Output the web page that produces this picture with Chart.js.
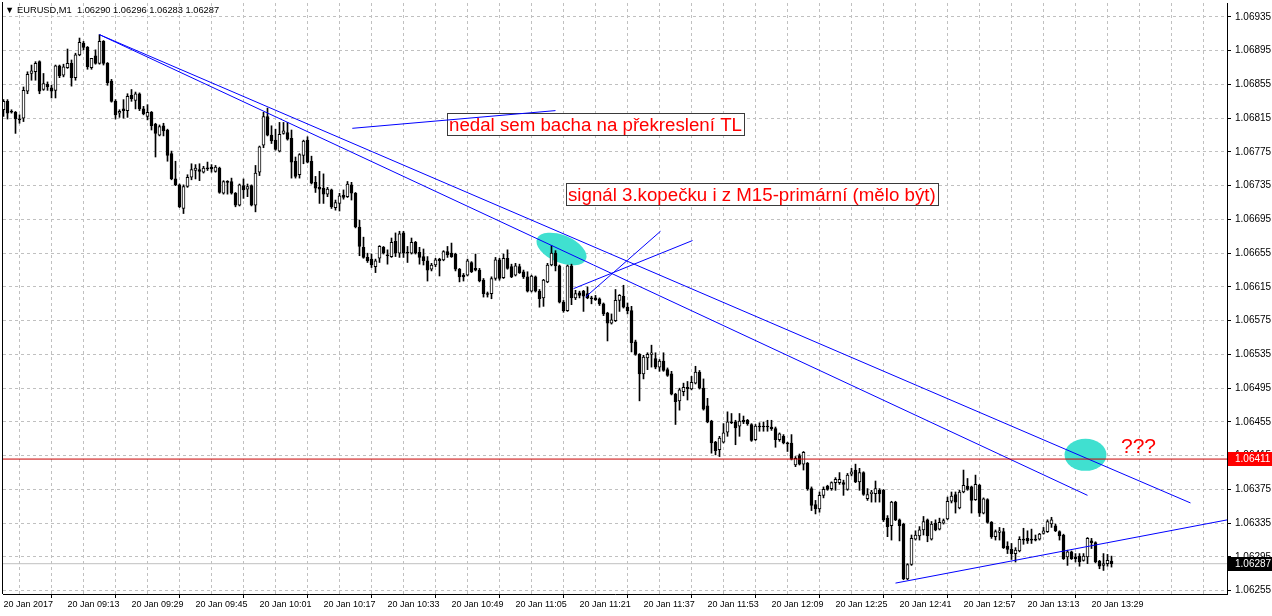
<!DOCTYPE html>
<html>
<head>
<meta charset="utf-8">
<script src="https://cdn.jsdelivr.net/npm/chart.js@4.4.1/dist/chart.umd.min.js"></script>
<style>
html,body{margin:0;padding:0;background:#ffffff;}
canvas{display:block;}
</style>
</head>
<body>
<canvas id="c" width="1272" height="616"></canvas>
<script>
// ---------------- DATA ----------------
const symbolTitle = 'EURUSD,M1';

const open = [
1.06825,1.06835,1.06823,1.06822,1.06814,1.06815,1.06847,1.06868,1.06870,1.06882,
1.06849,1.06855,1.06851,1.06848,1.06877,1.06866,1.06875,1.06880,1.06863,1.06890,
1.06904,1.06899,1.06875,1.06889,1.06880,1.06906,1.06880,1.06859,1.06835,1.06821,
1.06826,1.06824,1.06842,1.06836,1.06844,1.06826,1.06817,1.06822,1.06808,1.06795,
1.06806,1.06801,1.06773,1.06743,1.06736,1.06708,1.06734,1.06745,1.06753,1.06754,
1.06751,1.06756,1.06757,1.06752,1.06756,1.06726,1.06740,1.06740,1.06726,1.06712,
1.06735,1.06731,1.06735,1.06712,1.06751,1.06783,1.06817,1.06795,1.06789,1.06776,
1.06797,1.06798,1.06791,1.06764,1.06748,1.06771,1.06789,1.06764,1.06739,1.06733,
1.06732,1.06725,1.06730,1.06709,1.06714,1.06724,1.06722,1.06736,1.06726,1.06686,
1.06662,1.06650,1.06648,1.06639,1.06649,1.06662,1.06653,1.06651,1.06669,1.06655,
1.06679,1.06656,1.06655,1.06668,1.06656,1.06651,1.06646,1.06636,1.06641,1.06648,
1.06647,1.06657,1.06655,1.06654,1.06636,1.06629,1.06629,1.06644,1.06637,1.06635,
1.06623,1.06607,1.06607,1.06625,1.06647,1.06626,1.06649,1.06639,1.06629,1.06639,
1.06633,1.06627,1.06610,1.06627,1.06610,1.06602,1.06621,1.06641,1.06655,1.06640,
1.06597,1.06587,1.06640,1.06602,1.06608,1.06610,1.06607,1.06602,1.06602,1.06601,
1.06595,1.06584,1.06572,1.06575,1.06599,1.06604,1.06591,1.06587,1.06550,1.06535,
1.06512,1.06531,1.06535,1.06530,1.06520,1.06527,1.06517,1.06512,1.06488,1.06480,
1.06491,1.06496,1.06494,1.06501,1.06514,1.06495,1.06474,1.06456,1.06431,1.06422,
1.06431,1.06443,1.06455,1.06455,1.06450,1.06457,1.06457,1.06452,1.06434,1.06450,
1.06450,1.06450,1.06449,1.06447,1.06434,1.06438,1.06430,1.06430,1.06404,1.06415,
1.06405,1.06406,1.06376,1.06357,1.06352,1.06368,1.06379,1.06376,1.06383,1.06383,
1.06383,1.06375,1.06393,1.06398,1.06384,1.06395,1.06364,1.06370,1.06370,1.06374,
1.06374,1.06341,1.06332,1.06360,1.06339,1.06334,1.06269,1.06286,1.06316,1.06320,
1.06327,1.06339,1.06316,1.06335,1.06328,1.06335,1.06340,1.06361,1.06369,1.06353,
1.06372,1.06379,1.06378,1.06363,1.06380,1.06347,1.06363,1.06336,1.06319,1.06324,
1.06325,1.06308,1.06304,1.06299,1.06302,1.06316,1.06317,1.06316,1.06316,1.06316,
1.06323,1.06325,1.06334,1.06332,1.06325,1.06321,1.06295,1.06301,1.06295,1.06296,
1.06291,1.06295,1.06314,1.06312,1.06290,1.06285,1.06287,1.06290];

const high = [
1.06837,1.06837,1.06825,1.06823,1.06819,1.06852,1.06870,1.06878,1.06882,1.06883,
1.06868,1.06858,1.06854,1.06878,1.06878,1.06879,1.06897,1.06884,1.06892,1.06910,
1.06906,1.06900,1.06886,1.06896,1.06914,1.06907,1.06881,1.06861,1.06837,1.06825,
1.06837,1.06844,1.06849,1.06846,1.06845,1.06829,1.06831,1.06823,1.06809,1.06807,
1.06809,1.06802,1.06776,1.06764,1.06737,1.06736,1.06748,1.06761,1.06760,1.06761,
1.06758,1.06763,1.06760,1.06759,1.06757,1.06741,1.06741,1.06744,1.06727,1.06737,
1.06743,1.06737,1.06736,1.06759,1.06782,1.06822,1.06827,1.06806,1.06802,1.06810,
1.06810,1.06810,1.06801,1.06769,1.06773,1.06789,1.06793,1.06770,1.06746,1.06752,
1.06749,1.06733,1.06731,1.06718,1.06726,1.06730,1.06740,1.06739,1.06727,1.06694,
1.06674,1.06655,1.06654,1.06648,1.06664,1.06663,1.06659,1.06673,1.06679,1.06681,
1.06681,1.06663,1.06673,1.06669,1.06662,1.06660,1.06651,1.06643,1.06649,1.06649,
1.06658,1.06663,1.06667,1.06655,1.06637,1.06631,1.06648,1.06645,1.06654,1.06637,
1.06625,1.06609,1.06627,1.06650,1.06649,1.06654,1.06659,1.06642,1.06643,1.06642,
1.06635,1.06633,1.06629,1.06628,1.06612,1.06624,1.06643,1.06664,1.06658,1.06641,
1.06599,1.06641,1.06642,1.06611,1.06610,1.06611,1.06615,1.06604,1.06605,1.06602,
1.06596,1.06585,1.06583,1.06612,1.06606,1.06617,1.06596,1.06592,1.06552,1.06536,
1.06534,1.06537,1.06546,1.06537,1.06529,1.06537,1.06519,1.06515,1.06489,1.06495,
1.06501,1.06503,1.06509,1.06521,1.06516,1.06506,1.06483,1.06457,1.06432,1.06438,
1.06453,1.06467,1.06465,1.06457,1.06465,1.06462,1.06458,1.06453,1.06452,1.06454,
1.06455,1.06457,1.06457,1.06449,1.06442,1.06440,1.06431,1.06440,1.06414,1.06417,
1.06420,1.06407,1.06378,1.06362,1.06372,1.06378,1.06380,1.06384,1.06389,1.06395,
1.06386,1.06394,1.06400,1.06405,1.06400,1.06396,1.06376,1.06374,1.06385,1.06376,
1.06375,1.06344,1.06361,1.06361,1.06340,1.06335,1.06287,1.06321,1.06326,1.06331,
1.06343,1.06340,1.06337,1.06339,1.06341,1.06340,1.06366,1.06372,1.06372,1.06374,
1.06398,1.06388,1.06379,1.06392,1.06381,1.06365,1.06364,1.06337,1.06327,1.06330,
1.06329,1.06313,1.06311,1.06306,1.06319,1.06329,1.06326,1.06328,1.06321,1.06323,
1.06330,1.06339,1.06342,1.06334,1.06326,1.06322,1.06303,1.06302,1.06299,1.06299,
1.06299,1.06318,1.06317,1.06313,1.06291,1.06299,1.06298,1.06296];

const low = [
1.06817,1.06814,1.06821,1.06797,1.06809,1.06811,1.06844,1.06860,1.06860,1.06844,
1.06848,1.06848,1.06839,1.06839,1.06863,1.06864,1.06874,1.06853,1.06860,1.06889,
1.06896,1.06873,1.06873,1.06879,1.06879,1.06878,1.06854,1.06834,1.06814,1.06816,
1.06815,1.06816,1.06835,1.06826,1.06824,1.06819,1.06813,1.06801,1.06769,1.06794,
1.06794,1.06764,1.06742,1.06735,1.06709,1.06702,1.06733,1.06742,1.06743,1.06741,
1.06750,1.06753,1.06751,1.06751,1.06726,1.06725,1.06725,1.06725,1.06710,1.06711,
1.06720,1.06722,1.06711,1.06704,1.06747,1.06780,1.06794,1.06785,1.06777,1.06775,
1.06796,1.06789,1.06744,1.06744,1.06744,1.06761,1.06762,1.06737,1.06727,1.06714,
1.06714,1.06722,1.06708,1.06706,1.06705,1.06719,1.06721,1.06718,1.06685,1.06652,
1.06649,1.06644,1.06638,1.06632,1.06644,1.06654,1.06642,1.06650,1.06651,1.06650,
1.06650,1.06644,1.06654,1.06654,1.06642,1.06641,1.06622,1.06634,1.06639,1.06628,
1.06646,1.06650,1.06650,1.06634,1.06621,1.06622,1.06628,1.06632,1.06634,1.06621,
1.06603,1.06603,1.06601,1.06623,1.06623,1.06625,1.06636,1.06626,1.06628,1.06631,
1.06625,1.06609,1.06609,1.06609,1.06591,1.06592,1.06620,1.06640,1.06634,1.06596,
1.06585,1.06586,1.06594,1.06600,1.06602,1.06586,1.06601,1.06595,1.06599,1.06593,
1.06581,1.06551,1.06571,1.06574,1.06586,1.06590,1.06583,1.06538,1.06534,1.06480,
1.06506,1.06517,1.06520,1.06518,1.06515,1.06515,1.06509,1.06487,1.06452,1.06469,
1.06486,1.06481,1.06493,1.06500,1.06494,1.06469,1.06454,1.06418,1.06416,1.06414,
1.06430,1.06438,1.06453,1.06428,1.06438,1.06453,1.06451,1.06432,1.06433,1.06444,
1.06444,1.06444,1.06445,1.06425,1.06432,1.06429,1.06420,1.06410,1.06402,1.06404,
1.06398,1.06374,1.06350,1.06346,1.06348,1.06365,1.06374,1.06374,1.06374,1.06381,
1.06368,1.06374,1.06391,1.06383,1.06374,1.06368,1.06362,1.06360,1.06360,1.06360,
1.06337,1.06319,1.06315,1.06338,1.06314,1.06268,1.06268,1.06285,1.06315,1.06315,
1.06321,1.06313,1.06315,1.06326,1.06327,1.06334,1.06339,1.06359,1.06347,1.06352,
1.06371,1.06374,1.06347,1.06362,1.06343,1.06346,1.06335,1.06317,1.06315,1.06315,
1.06305,1.06299,1.06292,1.06289,1.06301,1.06310,1.06311,1.06311,1.06314,1.06315,
1.06322,1.06324,1.06330,1.06325,1.06315,1.06292,1.06285,1.06292,1.06289,1.06284,
1.06290,1.06287,1.06305,1.06288,1.06281,1.06279,1.06284,1.06283];

const close = [
1.06835,1.06821,1.06822,1.06814,1.06813,1.06848,1.06867,1.06871,1.06880,1.06847,
1.06856,1.06852,1.06847,1.06877,1.06865,1.06876,1.06880,1.06863,1.06890,1.06905,
1.06899,1.06876,1.06886,1.06880,1.06906,1.06880,1.06857,1.06835,1.06819,1.06823,
1.06824,1.06841,1.06838,1.06844,1.06826,1.06820,1.06822,1.06806,1.06797,1.06805,
1.06800,1.06771,1.06743,1.06736,1.06710,1.06734,1.06745,1.06754,1.06756,1.06752,
1.06756,1.06755,1.06755,1.06757,1.06727,1.06740,1.06739,1.06726,1.06712,1.06736,
1.06730,1.06734,1.06712,1.06750,1.06781,1.06817,1.06795,1.06788,1.06778,1.06796,
1.06800,1.06790,1.06763,1.06746,1.06772,1.06788,1.06763,1.06738,1.06732,1.06731,
1.06725,1.06731,1.06710,1.06715,1.06723,1.06721,1.06737,1.06726,1.06686,1.06663,
1.06650,1.06646,1.06641,1.06646,1.06663,1.06655,1.06652,1.06668,1.06655,1.06678,
1.06655,1.06655,1.06668,1.06655,1.06650,1.06646,1.06635,1.06641,1.06647,1.06646,
1.06657,1.06653,1.06651,1.06636,1.06627,1.06627,1.06646,1.06633,1.06635,1.06622,
1.06607,1.06606,1.06625,1.06647,1.06625,1.06649,1.06637,1.06627,1.06640,1.06632,
1.06627,1.06610,1.06628,1.06610,1.06601,1.06623,1.06641,1.06655,1.06640,1.06597,
1.06587,1.06640,1.06602,1.06607,1.06605,1.06604,1.06602,1.06601,1.06600,1.06595,
1.06583,1.06572,1.06576,1.06599,1.06605,1.06591,1.06587,1.06549,1.06535,1.06512,
1.06532,1.06535,1.06537,1.06520,1.06527,1.06516,1.06510,1.06488,1.06479,1.06493,
1.06496,1.06494,1.06502,1.06514,1.06495,1.06470,1.06455,1.06430,1.06421,1.06436,
1.06442,1.06455,1.06454,1.06448,1.06456,1.06455,1.06453,1.06433,1.06450,1.06449,
1.06449,1.06449,1.06447,1.06434,1.06441,1.06430,1.06429,1.06411,1.06412,1.06405,
1.06419,1.06376,1.06356,1.06352,1.06368,1.06375,1.06375,1.06383,1.06387,1.06387,
1.06381,1.06392,1.06396,1.06384,1.06395,1.06369,1.06369,1.06372,1.06376,1.06370,
1.06339,1.06331,1.06360,1.06339,1.06332,1.06269,1.06286,1.06317,1.06321,1.06327,
1.06337,1.06320,1.06334,1.06327,1.06336,1.06338,1.06361,1.06367,1.06360,1.06372,
1.06380,1.06375,1.06362,1.06381,1.06347,1.06364,1.06336,1.06319,1.06325,1.06326,
1.06306,1.06304,1.06299,1.06303,1.06316,1.06315,1.06314,1.06315,1.06315,1.06322,
1.06326,1.06337,1.06339,1.06326,1.06320,1.06293,1.06301,1.06293,1.06293,1.06289,
1.06296,1.06317,1.06312,1.06289,1.06284,1.06287,1.06291,1.06287];

// time axis labels, one every 16 one-minute bars starting at bar 0
const timeLabels = ['20 Jan 2017','20 Jan 09:13','20 Jan 09:29','20 Jan 09:45','20 Jan 10:01',
  '20 Jan 10:17','20 Jan 10:33','20 Jan 10:49','20 Jan 11:05','20 Jan 11:21','20 Jan 11:37',
  '20 Jan 11:53','20 Jan 12:09','20 Jan 12:25','20 Jan 12:41','20 Jan 12:57','20 Jan 13:13','20 Jan 13:29'];
const barsPerLabel = 16;
const barsPerGrid = 8;

// price axis ticks
const priceTicks = [1.06255,1.06295,1.06335,1.06375,1.06415,1.06455,1.06495,1.06535,1.06575,
  1.06615,1.06655,1.06695,1.06735,1.06775,1.06815,1.06855,1.06895,1.06935];

// drawn objects (bar index, price)
const upperTL_x = [24, 296.75];   const upperTL_y = [1.06914, 1.06359];
const lowerTL_x = [24, 271];      const lowerTL_y = [1.06914, 1.06368];
const supportTL_x = [223, 306];   const supportTL_y = [1.06264, 1.06339];
const noteTL_x = [87.2, 138];     const noteTL_y = [1.06803, 1.06824];
const crossA_x = [142.5, 172.25]; const crossA_y = [1.06613, 1.06670];
const crossB_x = [145.5, 164.25]; const crossB_y = [1.06603, 1.06681];
const hLevel = 1.06411;

const ellX = [139.5, 270.5];
const ellY = [1.06660, 1.06416];

const noteText = ['nedal sem bacha na překreslení TL', 'signál 3.kopečku i z M15-primární (mělo být)', '???'];
const noteX = [110.75, 140.5, 278.75];
const noteY = [1.06821, 1.06738, 1.06442];

// ---------------- STYLE / LAYOUT ----------------
const FONT = "'Liberation Sans', Arial, sans-serif";
const xMin = -0.125, xMax = 305.875;
const yMin = 1.0625109, yMax = 1.0695153;
const ELL_RX = [26.6, 21], ELL_RY = [13.7, 16], ELL_ROT = [23, 0];
const NOTE_BOX = [true, true, false], NOTE_SIZE = [18.7, 18.7, 21];
const GRID = '#c0c0c0';

Chart.defaults.font.family = FONT;
Chart.defaults.color = '#000';

const N = close.length;
const lastI = N - 1;
const bidLevel = close[lastI];
const wickData = low.map((l, i) => ({ x: i, y: [l, high[i]] }));
const bodyData = open.map((o, i) => ({ x: i, y: [o, close[i]] }));
const bodyFill = open.map((o, i) => close[i] > o ? '#ffffff' : '#000000');
const seg = (xs, ys) => xs.map((x, k) => ({ x: x, y: ys[k] }));
const lineDs = (data, color, order) => ({ type: 'line', data, borderColor: color, borderWidth: 1,
  pointRadius: 0, pointHoverRadius: 0, tension: 0, order });

const gridVals = [];
for (let v = 0; v <= xMax; v += barsPerGrid) gridVals.push(v);

const overlay = {
  id: 'overlay',
  beforeDatasetsDraw(chart) {
    const { ctx, chartArea: a, scales: { x, y } } = chart;
    ctx.save();
    ctx.beginPath(); ctx.rect(a.left, a.top, a.right - a.left, a.bottom - a.top); ctx.clip();
    ctx.fillStyle = '#40e0d0';
    for (let k = 0; k < ellX.length; k++) {
      ctx.beginPath();
      ctx.ellipse(x.getPixelForValue(ellX[k]), y.getPixelForValue(ellY[k]), ELL_RX[k], ELL_RY[k],
        ELL_ROT[k] * Math.PI / 180, 0, Math.PI * 2);
      ctx.fill();
    }
    ctx.restore();
  },
  afterDatasetDraw(chart, args) {
    if (args.index !== 2) return;
    const { ctx, scales: { x, y } } = chart;
    ctx.save();
    for (let k = 0; k < noteText.length; k++) {
      const px = Math.round(x.getPixelForValue(noteX[k]));
      const py = Math.round(y.getPixelForValue(noteY[k]));
      ctx.font = NOTE_SIZE[k] + 'px ' + FONT;
      const w = ctx.measureText(noteText[k]).width;
      const h = Math.round(NOTE_SIZE[k]) + 4;
      if (NOTE_BOX[k]) {
        ctx.fillStyle = '#ffffff';
        ctx.fillRect(px, py, Math.round(w) + 5, h);
        ctx.strokeStyle = '#3a3a3a'; ctx.lineWidth = 1;
        ctx.strokeRect(px + 0.5, py + 0.5, Math.round(w) + 4, h - 1);
      }
      ctx.fillStyle = '#ff0000';
      ctx.textBaseline = 'alphabetic';
      ctx.fillText(noteText[k], px + 2, py + Math.round(NOTE_SIZE[k]) - 1);
    }
    ctx.restore();
  },
  afterDraw(chart) {
    const { ctx, chartArea: a, scales: { y } } = chart;
    ctx.save();
    // left frame line
    ctx.fillStyle = '#000';
    ctx.fillRect(a.left - 1, a.top - 1, 1, a.bottom - a.top + 1);
    // header
    ctx.font = '9.3px ' + FONT;
    ctx.textBaseline = 'middle';
    ctx.fillText('▼', a.left + 2, 10);
    const hdr = symbolTitle + '  ' + [open[lastI], high[lastI], low[lastI], close[lastI]].map(v => v.toFixed(5)).join(' ');
    ctx.fillText(hdr, a.left + 14, 10);
    // price tags on axis
    const tag = (price, bg) => {
      const py = Math.round(y.getPixelForValue(price));
      ctx.fillStyle = bg;
      ctx.fillRect(a.right + 1, py - 7, 45, 14);
      ctx.fillStyle = '#ffffff';
      ctx.font = '10px ' + FONT;
      ctx.textBaseline = 'middle';
      ctx.fillText(price.toFixed(5), a.right + 8, py + 0.5);
    };
    tag(hLevel, '#ff0000');
    tag(bidLevel, '#000000');
    ctx.restore();
  }
};

new Chart(document.getElementById('c'), {
  type: 'bar',
  data: {
    datasets: [
      lineDs([{ x: xMin, y: bidLevel }, { x: xMax, y: bidLevel }], '#c0c0c0', 20),
      { type: 'bar', data: wickData, backgroundColor: '#000000', borderWidth: 0, barThickness: 1,
        grouped: false, order: 11 },
      { type: 'bar', data: bodyData, backgroundColor: bodyFill, borderColor: '#000000', borderWidth: 1,
        borderSkipped: false, barThickness: 3, minBarLength: 1, grouped: false, order: 10 },
      lineDs(seg(upperTL_x, upperTL_y), '#0000ff', 1),
      lineDs(seg(lowerTL_x, lowerTL_y), '#0000ff', 1),
      lineDs(seg(supportTL_x, supportTL_y), '#0000ff', 1),
      lineDs(seg(noteTL_x, noteTL_y), '#0000ff', 1),
      lineDs(seg(crossA_x, crossA_y), '#0000ff', 1),
      lineDs(seg(crossB_x, crossB_y), '#0000ff', 1),
      lineDs([{ x: xMin, y: hLevel }, { x: xMax, y: hLevel }], '#c80000', 0)
    ]
  },
  options: {
    responsive: false,
    devicePixelRatio: 1,
    animation: false,
    events: [],
    layout: { padding: { left: 3, top: 3, right: 0, bottom: 0 } },
    plugins: { legend: { display: false }, tooltip: { enabled: false }, title: { display: false } },
    scales: {
      x: {
        type: 'linear', min: xMin, max: xMax, offset: false,
        afterBuildTicks: s => { s.ticks = gridVals.map(v => ({ value: v })); },
        afterFit: s => { s.height = 22; s.paddingLeft = 0; s.paddingRight = 0; },
        ticks: {
          autoSkip: false, maxRotation: 0, minRotation: 0, align: 'start', padding: 1,
          font: { size: 9, family: FONT }, color: '#000',
          callback: v => (v % barsPerLabel === 0 && timeLabels[v / barsPerLabel]) ? timeLabels[v / barsPerLabel] : ''
        },
        grid: {
          color: GRID, lineWidth: 1, tickLength: 4, tickBorderDash: [],
          tickColor: c => (c.tick && c.tick.value % barsPerLabel === 0 && timeLabels[c.tick.value / barsPerLabel]) ? '#000' : 'rgba(0,0,0,0)'
        },
        border: { display: true, color: '#000', width: 1, dash: [3, 3] }
      },
      y: {
        type: 'linear', position: 'right', min: yMin, max: yMax,
        afterBuildTicks: s => { s.ticks = priceTicks.map(v => ({ value: v })); },
        afterFit: s => { s.width = 45; s.paddingTop = 0; s.paddingBottom = 0; },
        ticks: { autoSkip: false, padding: 4, font: { size: 10, family: FONT }, color: '#000',
          callback: v => Number(v).toFixed(5) },
        grid: { color: GRID, lineWidth: 1, tickLength: 4, tickColor: '#000', tickBorderDash: [] },
        border: { display: true, color: '#000', width: 1, dash: [3, 3] }
      }
    }
  },
  plugins: [overlay]
});
</script>
</body>
</html>
